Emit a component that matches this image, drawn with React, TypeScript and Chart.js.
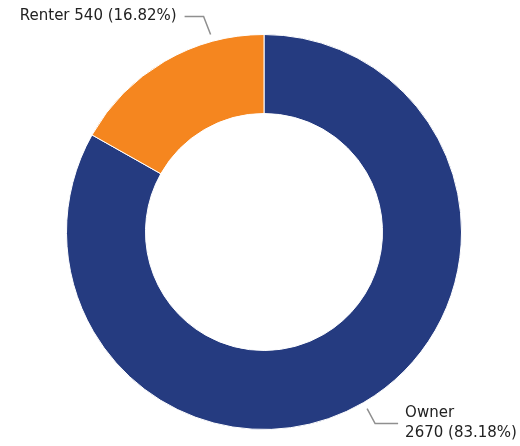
import React, { useEffect, useRef } from "react";
import { Chart, registerables } from "chart.js";

Chart.register(...registerables);

const categories = ["Owner", "Renter"];
const values = [2670, 540];
const percents = ["83.18%", "16.82%"];
const colors = ["#253b80", "#f5861f"];
const anchorFractions = [0.5, 0.75];

const labelPlugin = {
  id: "leaderLabels",
  afterDraw(chart: any) {
    const ctx = chart.ctx;
    const meta = chart.getDatasetMeta(0);
    ctx.save();
    ctx.font = "15px 'DejaVu Sans'";
    ctx.textBaseline = "middle";
    meta.data.forEach((arc: any, i: number) => {
      const f = anchorFractions[i];
      const a = arc.startAngle + (arc.endAngle - arc.startAngle) * f;
      const r = arc.outerRadius + 7;
      const x0 = arc.x + Math.cos(a) * r;
      const y0 = arc.y + Math.sin(a) * r;
      const right = Math.cos(a) >= 0;
      const down = Math.sin(a) >= 0;
      const x1 = x0 + (right ? 8 : -7);
      const y1 = y0 + (down ? 15 : -18);
      const x2 = x1 + (right ? 23 : -19);
      ctx.strokeStyle = "#8f8f8f";
      ctx.lineWidth = 1.5;
      ctx.beginPath();
      ctx.moveTo(x0, y0);
      ctx.lineTo(x1, y1);
      ctx.lineTo(x2, y1);
      ctx.stroke();
      ctx.fillStyle = "#222";
      if (right) {
        ctx.textAlign = "left";
        ctx.fillText(categories[i], x2 + 7, y1 - 10);
        ctx.fillText(`${values[i]} (${percents[i]})`, x2 + 7, y1 + 10);
      } else {
        ctx.textAlign = "right";
        ctx.fillText(`${categories[i]} ${values[i]} (${percents[i]})`, x2 - 8, y1);
      }
    });
    ctx.restore();
  },
};

export default function App() {
  const ref = useRef<HTMLCanvasElement>(null);
  useEffect(() => {
    const chart = new Chart(ref.current!, {
      type: "doughnut",
      data: {
        labels: categories,
        datasets: [
          {
            data: values,
            backgroundColor: colors,
            borderColor: "#ffffff",
            borderWidth: 1,
          },
        ],
      },
      options: {
        responsive: false,
        animation: false,
        cutout: "60%",
        layout: { padding: { left: 66, right: 58, top: 34, bottom: 16 } },
        plugins: { legend: { display: false }, tooltip: { enabled: false } },
      },
      plugins: [labelPlugin],
    });
    return () => chart.destroy();
  }, []);
  return (
    <div style={{ position: "fixed", left: 0, top: 0, width: 520, height: 446, background: "#fff" }}>
      <canvas ref={ref} width={520} height={446} />
    </div>
  );
}
